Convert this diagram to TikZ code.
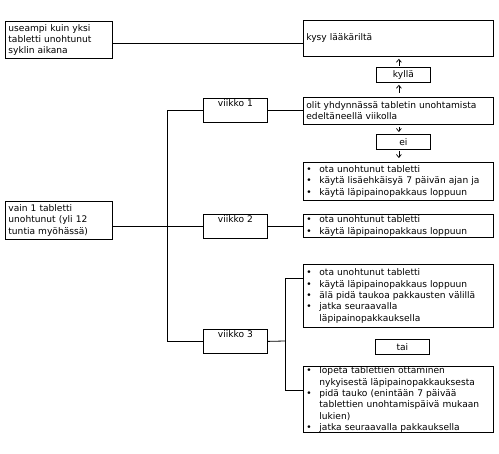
\documentclass[tikz,border=0pt]{standalone}
\usepackage{fontspec}
\setmainfont{DejaVu Sans}
\usetikzlibrary{arrows.meta,positioning,calc}
\newcommand{\fsz}{\fontsize{9.1}{11.3}\selectfont}
\newcommand{\bitem}[1]{\makebox[13pt][l]{\textbullet}#1}
\newcommand{\bcont}[1]{\hspace*{13pt}#1}
\tikzset{
  box/.style ={draw, line width=0.8pt, anchor=north west, align=left,
               inner xsep=3pt, inner ysep=0.5pt, font=\fsz},
  wk/.style  ={draw, line width=0.8pt, anchor=north west, minimum width=64pt,
               minimum height=24pt, text height=6.5pt, text depth=13.5pt,
               inner sep=2pt, font=\fsz},
  tag/.style ={draw, line width=0.8pt, anchor=north west, minimum width=54pt,
               minimum height=15pt, inner sep=0pt, font=\fsz},
  ln/.style  ={line width=0.8pt},
  fl/.style  ={-{Straight Barb[length=3pt,width=5pt]}, line width=0.7pt},
}
\begin{document}
\begin{tikzpicture}[x=1pt,y=-1pt]
  \useasboundingbox (0,0) rectangle (499,454);
  % left column
  \node[box,text width=101pt,minimum height=37pt] (many) at (5,21)
    {useampi kuin yksi\\tabletti unohtunut\\syklin aikana};
  \node[box,text width=101pt,minimum height=38pt] (one) at (5,201)
    {vain 1 tabletti\\unohtunut (yli 12\\tuntia myöhässä)};
  % weeks
  \node[wk] (w1) at (203,98) {viikko 1};
  \node[wk] (w2) at (203,214) {viikko 2};
  \node[wk,minimum height=23pt] (w3) at (203,329) {viikko 3};
  % right column
  \node[box,text width=184pt,minimum height=36pt] (ask) at (303,20) {kysy lääkäriltä};
  \node[tag] (yes) at (376,67) {kyllä};
  \node[box,text width=184pt,minimum height=27pt] (sex) at (303,97)
    {olit yhdynnässä tabletin unohtamista\\edeltäneellä viikolla};
  \node[tag] (no) at (376,134) {ei};
  \node[box,text width=184pt,minimum height=38pt] (r1) at (303,162)
    {\bitem{ota unohtunut tabletti}\\\bitem{käytä lisäehkäisyä 7 päivän ajan ja}\\\bitem{käytä läpipainopakkaus loppuun}};
  \node[box,text width=184pt,minimum height=23pt] (r2) at (303,214)
    {\bitem{ota unohtunut tabletti}\\\bitem{käytä läpipainopakkaus loppuun}};
  \node[box,text width=184pt,minimum height=63pt] (r3a) at (303,264)
    {\bitem{ota unohtunut tabletti}\\\bitem{käytä läpipainopakkaus loppuun}\\\bitem{älä pidä taukoa pakkausten välillä}\\\bitem{jatka seuraavalla}\\\bcont{läpipainopakkauksella}};
  \node[tag] (or) at (375,339) {tai};
  \node[box,text width=184pt,minimum height=64pt] (r3b) at (303,366)
    {\bitem{lopeta tablettien ottaminen}\\\bcont{nykyisestä läpipainopakkauksesta}\\\bitem{pidä tauko (enintään 7 päivää}\\\bcont{tablettien unohtamispäivä mukaan}\\\bcont{lukien)}\\\bitem{jatka seuraavalla pakkauksella}};
  \coordinate (split) at (167,226);
  \coordinate (fork) at (285,341);
  \coordinate (r3aIn) at ([yshift=-14pt]r3a.north west);
  \coordinate (r3bIn) at ([yshift=-24pt]r3b.north west);
  \coordinate (askIn) at ([yshift=-4pt]many.east -| ask.west);
  % connectors
  \draw[ln] ([yshift=-4pt]many.east) -- (askIn);
  \draw[ln] (one.east |- w2.west) -- (w2.west);
  \draw[ln] (w1.west) -- (split |- w1.west) -- (split |- w3.west) -- (w3.west);
  \draw[ln] (w1.east) -- (w1.east -| sex.west);
  \draw[ln] (w2.east) -- (w2.east -| r2.west);
  \draw[ln] (w3.east) -- (fork);
  \draw[ln] (r3aIn) -- (fork |- r3aIn) -- (fork |- r3bIn) -- (r3bIn);
  \draw[fl,shorten <=1pt,shorten >=2pt] ([xshift=-4.5pt]yes.north) -- ([xshift=-4.5pt]yes.north |- ask.south);
  \draw[fl,shorten <=4pt,shorten >=2pt] ([xshift=-4.5pt]yes.north |- sex.north) -- ([xshift=-4.5pt]yes.south);
  \draw[fl,shorten <=2pt,shorten >=2pt] ([xshift=-4.5pt]no.north |- sex.south) -- ([xshift=-4.5pt]no.north);
  \draw[fl,shorten <=1pt,shorten >=4pt] ([xshift=-4.5pt]no.south) -- ([xshift=-4.5pt]no.south |- r1.north);
\end{tikzpicture}
\end{document}
